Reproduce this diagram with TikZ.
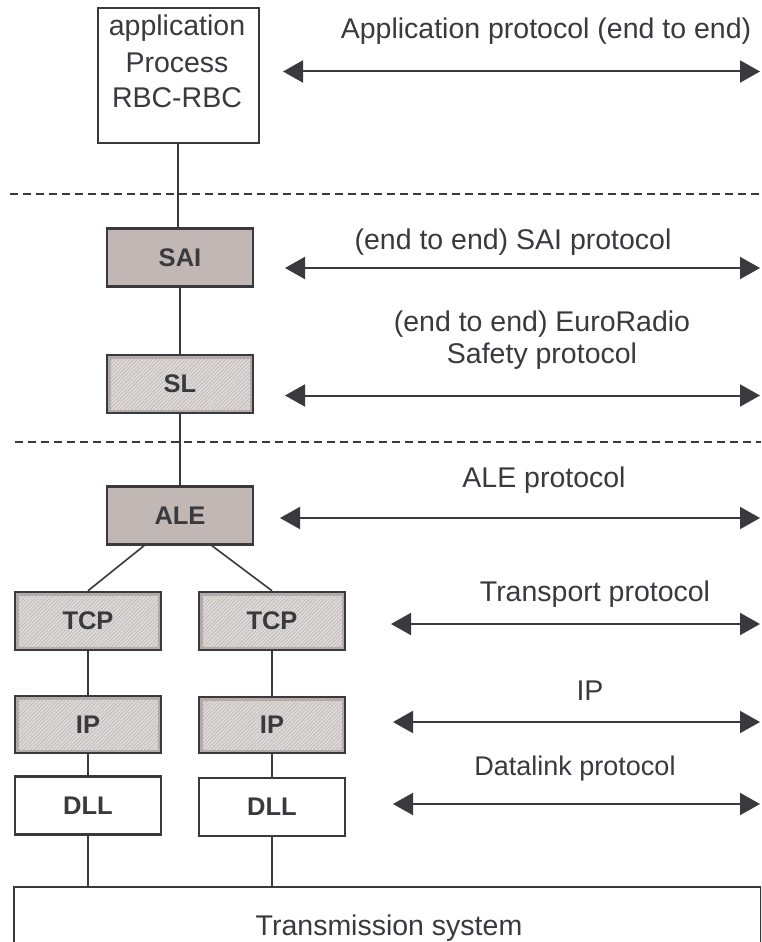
\documentclass[tikz,border=0pt]{standalone}
\usepackage{fontspec}
\setmainfont{Liberation Sans}
\usetikzlibrary{arrows.meta,patterns.meta,calc}
\definecolor{ink}{HTML}{3A393E}
\definecolor{saifill}{HTML}{C1B8B5}
\definecolor{hatchbg}{HTML}{DEDBDA}
\definecolor{hatchline}{HTML}{B9B3B1}
\definecolor{innerb}{HTML}{B3ABA8}
\tikzset{
  lbl/.style={text=ink, inner sep=0pt, font=\fontsize{28.5}{34}\selectfont},
  smalllbl/.style={text=ink, inner sep=0pt, font=\fontsize{27}{32}\selectfont},
  layer/.style={draw=ink, line width=2.5pt, minimum width=146pt, minimum height=58pt,
    inner sep=0pt, text=ink, font=\fontsize{25.5}{30}\selectfont\bfseries},
  solidlayer/.style={layer, fill=saifill},
  whitelayer/.style={layer, fill=white},
  hatchlayer/.style={layer, preaction={fill=hatchbg},
    pattern={Lines[angle=45,distance=2.6pt,line width=0.6pt]}, pattern color=hatchline,
    path picture={\draw[draw=innerb, line width=7pt]
      (path picture bounding box.south west) rectangle (path picture bounding box.north east);}},
  conn/.style={draw=ink, line width=1.6pt},
  sepline/.style={draw=ink, line width=1.5pt, dash pattern=on 8pt off 5pt},
  proto/.style={draw=ink, line width=2pt, {Triangle[length=20pt,width=22pt]}-{Triangle[length=20pt,width=22pt]}}
}
\begin{document}
\begin{tikzpicture}[x=1pt,y=-1pt]
\clip (0,0) rectangle (761,942);
\fill[white] (0,0) rectangle (761,942);

% application box
\node[draw=ink, line width=1.8pt, minimum width=161pt, minimum height=135pt, inner sep=0pt] (app) at (178.5,75.5) {};
\node[lbl, anchor=base] (appt1) at (177,36) {application};
\node[lbl, anchor=base] (appt2) at (177,73) {Process};
\node[lbl, anchor=base] (appt3) at (177,107) {RBC-RBC};
\coordinate (appline) at (178,0);

% layers
\node[solidlayer] (sai) at (180,257.5) {SAI};
\node[hatchlayer] (sl) at (180,384) {SL};
\node[solidlayer] (ale) at (180,515.5) {ALE};
\node[hatchlayer] (tcpl) at (88,621) {TCP};
\node[hatchlayer] (tcpr) at (272,621) {TCP};
\node[hatchlayer, minimum height=57pt] (ipl) at (88,724.5) {IP};
\node[hatchlayer, minimum height=56pt] (ipr) at (272,725) {IP};
\node[whitelayer] (dlll) at (88,805.5) {DLL};
\node[whitelayer] (dllr) at (272,807) {DLL};

% transmission system
\node[draw=ink, line width=1.8pt, minimum width=747pt, minimum height=120pt, inner sep=0pt, anchor=north west] (trans) at (13,886) {};
\node[lbl, anchor=base] (transt) at (389,935) {Transmission system};

% connectors
\draw[conn] (app.south -| appline) -- (sai.north -| appline);
\draw[conn] (sai.south) -- (sl.north);
\draw[conn] (sl.south) -- (ale.north);
\draw[conn] ([xshift=-36pt]ale.south) -- (tcpl.north);
\draw[conn] ([xshift=32pt]ale.south) -- (tcpr.north);
\draw[conn] (tcpl.south) -- (ipl.north);
\draw[conn] (tcpr.south) -- (ipr.north);
\draw[conn] (ipl.south) -- (dlll.north);
\draw[conn] (ipr.south) -- (dllr.north);
\draw[conn] (dlll.south) -- (dlll.south |- trans.north);
\draw[conn] (dllr.south) -- (dllr.south |- trans.north);

% separators
\coordinate (s1a) at (10,194);
\coordinate (s1b) at (761,194);
\coordinate (s2a) at (15,442);
\coordinate (s2b) at (761,442);
\draw[sepline] (s1a) -- (s1b);
\draw[sepline] (s2a) -- (s2b);

% protocols
\coordinate (p1l) at (283,71.5); \coordinate (p1r) at (760,71.5);
\coordinate (p2l) at (285,268);  \coordinate (p2r) at (760,268);
\coordinate (p3l) at (285,395.5);\coordinate (p3r) at (760,395.5);
\coordinate (p4l) at (280,518);  \coordinate (p4r) at (760,518);
\coordinate (p5l) at (391,624);  \coordinate (p5r) at (760,624);
\coordinate (p6l) at (393,722);  \coordinate (p6r) at (760,722);
\coordinate (p7l) at (393,804);  \coordinate (p7r) at (760,804);
\draw[proto] (p1l) -- (p1r);
\draw[proto] (p2l) -- (p2r);
\draw[proto] (p3l) -- (p3r);
\draw[proto] (p4l) -- (p4r);
\draw[proto] (p5l) -- (p5r);
\draw[proto] (p6l) -- (p6r);
\draw[proto] (p7l) -- (p7r);

\node[lbl, anchor=base] (l1) at (546,39) {Application protocol (end to end)};
\node[lbl, anchor=base] (l2) at (513,249) {(end to end) SAI protocol};
\node[lbl, anchor=base] (l3a) at (542,331) {(end to end) EuroRadio};
\node[lbl, anchor=base] (l3b) at (542,363) {Safety protocol};
\node[lbl, anchor=base] (l4) at (544,487) {ALE protocol};
\node[lbl, anchor=base] (l5) at (595,601) {Transport protocol};
\node[lbl, anchor=base] (l6) at (590,700) {IP};
\node[smalllbl, anchor=base] (l7) at (575,775) {Datalink protocol};
\end{tikzpicture}
\end{document}
